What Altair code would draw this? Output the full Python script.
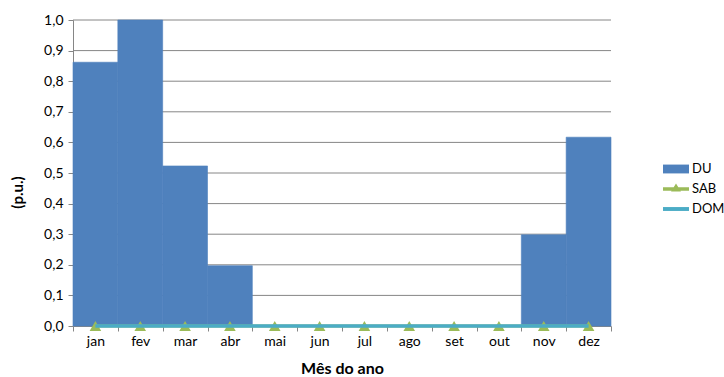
import altair as alt
import pandas as pd

# Monthly profile in per-unit values
months = ["jan", "fev", "mar", "abr", "mai", "jun", "jul", "ago", "set", "out", "nov", "dez"]
du = [0.862, 1.0, 0.523, 0.197, 0.0, 0.0, 0.0, 0.0, 0.0, 0.0, 0.298, 0.617]
sab = [0.0] * 12
dom = [0.0] * 12
y_ticks = [0.0, 0.1, 0.2, 0.3, 0.4, 0.5, 0.6, 0.7, 0.8, 0.9, 1.0]

series = ["DU", "SAB", "DOM"]
colors = ["#4F81BD", "#9BBB59", "#4BACC6"]
# legend glyphs: block for the column series, line+marker and plain line for the others
glyphs = [
    "M-1,-0.34H1V0.34H-1Z",
    "M-1,-0.13H1V0.13H-1Z M-0.38,0.2L0,-0.42L0.38,0.2Z",
    "M-1,-0.15H1V0.15H-1Z",
]

FONT = "Lato"
GRID = "#868686"

bars_df = pd.DataFrame({"i": range(12), "mes": months, "v": du})
bars_df["i0"] = bars_df["i"]
bars_df["i1"] = bars_df["i"] + 1
bars_df["base"] = 0.0
sab_df = pd.DataFrame({"c": [k + 0.5 for k in range(12)], "v": sab})
dom_df = pd.DataFrame({"c": [k + 0.5 for k in range(12)], "v": dom})
grid_df = pd.DataFrame({"v": y_ticks[1:]})
leg_df = pd.DataFrame({"serie": series})

label_expr = "[" + ",".join("'%s'" % m for m in months) + ",''][datum.value]"

x_scale = alt.Scale(domain=[0, 12], nice=False, zero=False)
y_scale = alt.Scale(domain=[0, 1], nice=False)

x_axis = alt.Axis(
    values=list(range(13)),
    labelExpr=label_expr,
    labelOffset=22.4,
    labelFlush=False,
    labelOverlap=False,
    grid=False,
    tickSize=5,
    labelPadding=3,
    title="Mês do ano",
    titleFontWeight="bold",
    titleFontSize=16,
    titleY=34,
    titleBaseline="top",
    zindex=0,
)
y_axis = alt.Axis(
    values=y_ticks,
    labelExpr="replace(format(datum.value, '.1f'), '.', ',')",
    labelOverlap=False,
    labelFlush=False,
    grid=False,
    tickSize=5,
    labelPadding=5,
    title="(p.u.)",
    titleFontWeight="bold",
    titleFontSize=15,
    titleX=-56,
    titleY=172,
    titleAlign="center",
    titleBaseline="middle",
    zindex=0,
)


def xq(field):
    return alt.X(field, type="quantitative", scale=x_scale, axis=x_axis)


def yq(field):
    return alt.Y(field, type="quantitative", scale=y_scale, axis=y_axis)


# horizontal gridlines, kept behind the columns
grid = alt.Chart(grid_df).mark_rule(color=GRID, strokeWidth=1).encode(y=yq("v"))

bars = alt.Chart(bars_df).mark_bar(
    color=colors[0], stroke=colors[0], strokeWidth=0.6, opacity=1
).encode(x=xq("i0"), x2="i1", y=yq("v"), y2="base")

sab_line = alt.Chart(sab_df).mark_line(color=colors[1], strokeWidth=3).encode(
    x=xq("c"), y=yq("v")
)
sab_pts = alt.Chart(sab_df).mark_point(
    shape="triangle-up", filled=True, color=colors[1], size=135, opacity=1
).encode(x=xq("c"), y=yq("v"))

dom_line = alt.Chart(dom_df).mark_line(color=colors[2], strokeWidth=3.5).encode(
    x=xq("c"), y=yq("v")
)

# legend-only layer, its points sit outside the drawing
legend_layer = alt.Chart(leg_df).mark_point(filled=True, opacity=1).encode(
    x=alt.value(-600),
    y=alt.value(-600),
    color=alt.Color(
        "serie:N",
        scale=alt.Scale(domain=series, range=colors),
        legend=alt.Legend(
            title=None,
            orient="none",
            legendX=590,
            legendY=136,
            symbolSize=676,
            symbolOpacity=1,
            symbolStrokeWidth=0,
            rowPadding=0,
            labelOffset=3,
            labelFontSize=13,
            labelFont=FONT,
            labelColor="#000000",
            padding=0,
        ),
    ),
    shape=alt.Shape("serie:N", scale=alt.Scale(domain=series, range=glyphs)),
)

chart = (
    alt.layer(grid, bars, sab_line, sab_pts, dom_line, legend_layer)
    .properties(
        width=538,
        height=306,
        autosize=alt.AutoSizeParams(type="none"),
        padding={"left": 73, "top": 20, "right": 113, "bottom": 51},
        background="white",
    )
    .configure_view(stroke=None)
    .configure_axis(
        labelFont=FONT,
        titleFont=FONT,
        labelFontSize=14,
        labelColor="#000000",
        titleColor="#000000",
        domainColor=GRID,
        tickColor=GRID,
        domainWidth=1,
        tickWidth=1,
    )
)

chart.save("out.html", embed_options={"renderer": "svg", "actions": False})
